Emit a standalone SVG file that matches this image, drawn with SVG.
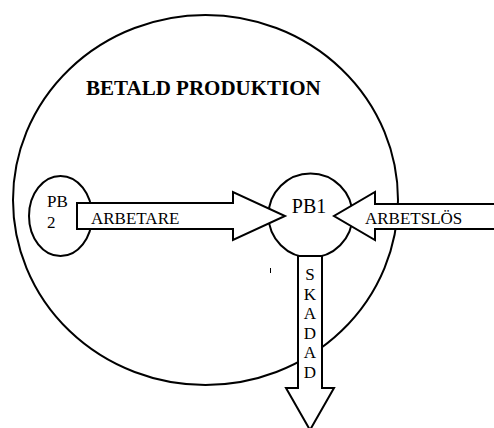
<svg xmlns="http://www.w3.org/2000/svg" width="494" height="428" viewBox="0 0 494 428">
  <style>
    .shape { fill: #ffffff; stroke: #000000; stroke-width: 2; }
    .arrow { fill: #ffffff; stroke: #000000; stroke-width: 2; stroke-linejoin: miter; }
    .lbl { font-family: "Liberation Serif", "Times New Roman", serif; fill: #000000; font-size: 17px; }
    .big { font-size: 20px; }
    .title { font-family: "Liberation Serif", "Times New Roman", serif; font-weight: bold; font-size: 21px; fill: #000000; }
  </style>
  <rect width="494" height="428" fill="#ffffff"/>

  <!-- outer domain -->
  <g id="betald-produktion">
    <ellipse class="shape" cx="205.5" cy="200" rx="192.5" ry="185"/>
    <text class="title" x="86" y="95">BETALD PRODUKTION</text>
  </g>

  <g id="pb2">
    <ellipse class="shape" cx="60.5" cy="216" rx="31.5" ry="40"/>
    <text class="lbl" x="47" y="207">PB</text>
    <text class="lbl" x="47" y="228">2</text>
  </g>

  <g id="pb1">
    <circle class="shape" cx="310.5" cy="215.5" r="42"/>
    <text class="lbl big" x="309" y="213" text-anchor="middle">PB1</text>
  </g>

  <!-- block arrows -->
  <g id="connectors">
    <g id="arbetare">
      <polygon class="arrow" points="77,203 233,203 233,192 285,216 233,240 233,229 77,229"/>
      <text class="lbl" x="91" y="224">ARBETARE</text>
    </g>
    <g id="arbetslos">
      <polygon class="arrow" points="500,204 375,204 375,192 334,216 375,240 375,229 500,229"/>
      <text class="lbl" x="365" y="224">ARBETSLÖS</text>
    </g>
    <g id="skadad">
      <polygon class="arrow" points="298,256 322,256 322,388 334,388 310,430 286,388 298,388"/>
      <g class="lbl" text-anchor="middle">
        <text x="310" y="280">S</text>
        <text x="310" y="299.5">K</text>
        <text x="310" y="319">A</text>
        <text x="310" y="338.5">D</text>
        <text x="310" y="358">A</text>
        <text x="310" y="377.5">D</text>
      </g>
    </g>
  </g>

  <!-- stray tick -->
  <line x1="270.5" y1="268" x2="270.5" y2="273" stroke="#000000" stroke-width="1"/>
</svg>
